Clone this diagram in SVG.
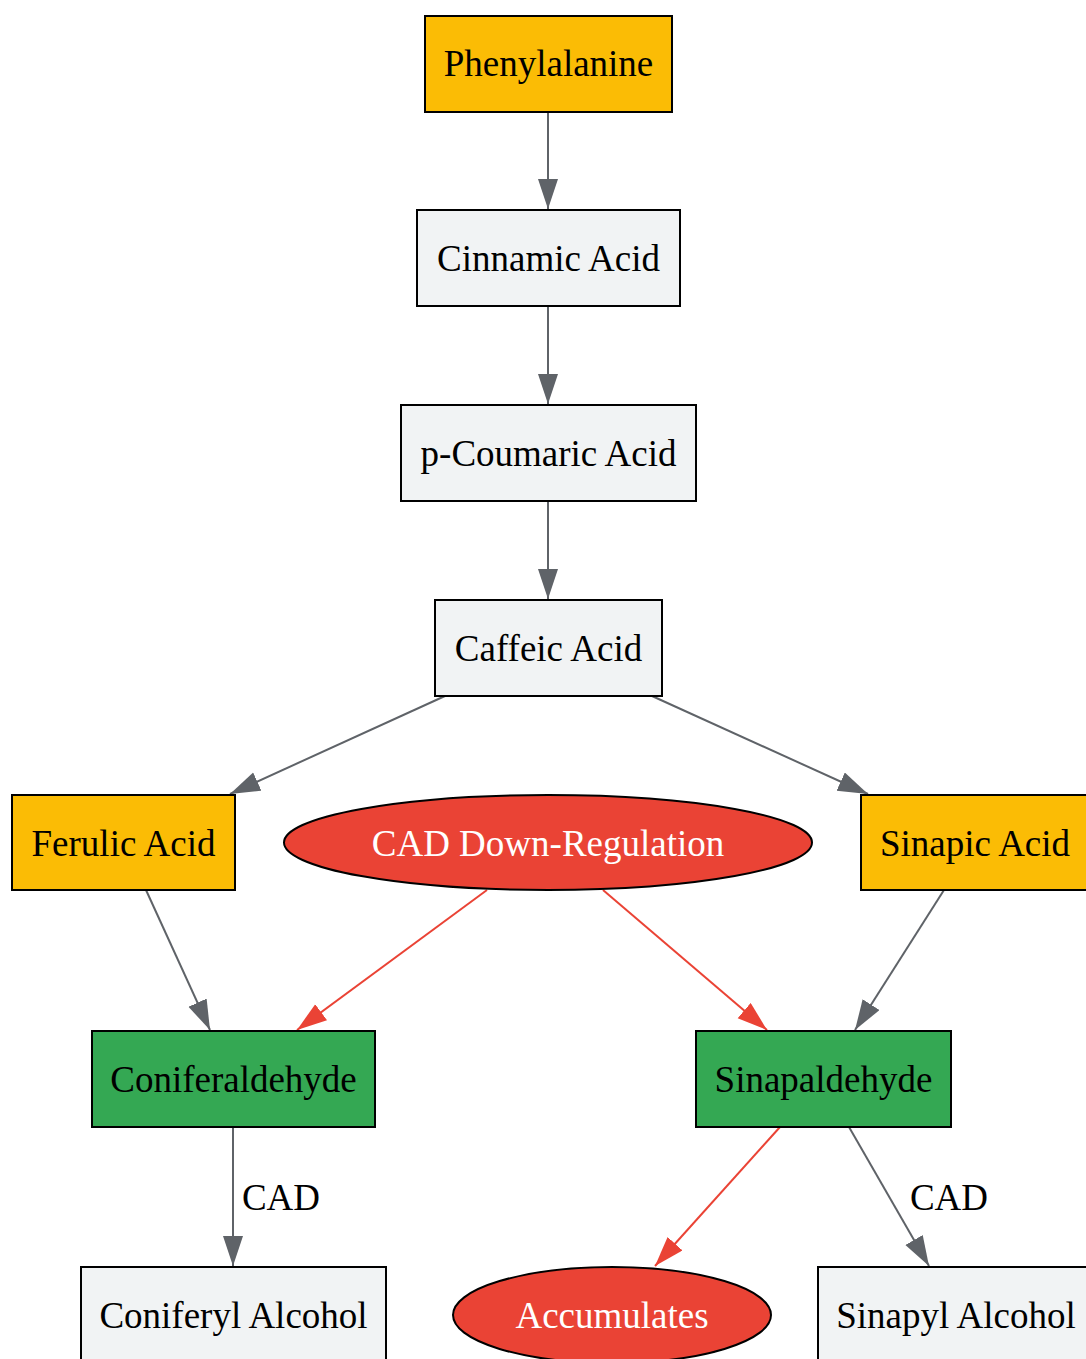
<svg xmlns="http://www.w3.org/2000/svg" width="1086" height="1359" viewBox="0 0 1086 1359">
<style>
.n{stroke:#000;stroke-width:2}
.y{fill:#FBBC05}.g{fill:#F1F3F4}.gr{fill:#34A853}.r{fill:#EA4335}
text{font-family:"Liberation Serif","Times New Roman",serif;font-size:37px;text-anchor:middle;fill:#000}
.w{fill:#fff}
.e{fill:none;stroke:#5F6368;stroke-width:2}
.er{fill:none;stroke:#EA4335;stroke-width:2}
</style>
<defs>
<marker id="ag" markerUnits="userSpaceOnUse" markerWidth="32" markerHeight="22" refX="30" refY="10" orient="auto"><path d="M0,0 L30,10 L0,20 z" fill="#5F6368"/></marker>
<marker id="ar" markerUnits="userSpaceOnUse" markerWidth="32" markerHeight="22" refX="30" refY="10" orient="auto"><path d="M0,0 L30,10 L0,20 z" fill="#EA4335"/></marker>
</defs>
<rect width="1086" height="1359" fill="#fff"/>
<g id="edges">
<line class="e" x1="548" y1="112" x2="548" y2="209" marker-end="url(#ag)"/>
<line class="e" x1="548" y1="306" x2="548" y2="404" marker-end="url(#ag)"/>
<line class="e" x1="548" y1="501" x2="548" y2="599" marker-end="url(#ag)"/>
<line class="e" x1="445" y1="696" x2="230" y2="794" marker-end="url(#ag)"/>
<line class="e" x1="652" y1="696" x2="868" y2="794" marker-end="url(#ag)"/>
<line class="e" x1="146" y1="890" x2="210" y2="1030" marker-end="url(#ag)"/>
<line class="er" x1="487" y1="890" x2="297" y2="1030" marker-end="url(#ar)"/>
<line class="er" x1="603" y1="890" x2="767" y2="1030" marker-end="url(#ar)"/>
<line class="e" x1="944" y1="890" x2="855" y2="1030" marker-end="url(#ag)"/>
<line class="e" x1="233" y1="1127" x2="233" y2="1266" marker-end="url(#ag)"/>
<text x="281" y="1210">CAD</text>
<line class="er" x1="780" y1="1127" x2="655" y2="1266" marker-end="url(#ar)"/>
<line class="e" x1="849" y1="1127" x2="929" y2="1266" marker-end="url(#ag)"/>
<text x="949" y="1210">CAD</text>
</g>
<g id="phenylalanine"><rect class="n y" x="425" y="16" width="247" height="96"/><text x="548.5" y="76">Phenylalanine</text></g>
<g id="cinnamic"><rect class="n g" x="417" y="210" width="263" height="96"/><text x="548.5" y="271">Cinnamic Acid</text></g>
<g id="pcoumaric"><rect class="n g" x="401" y="405" width="295" height="96"/><text x="548.5" y="466">p-Coumaric Acid</text></g>
<g id="caffeic"><rect class="n g" x="435" y="600" width="227" height="96"/><text x="548.5" y="661">Caffeic Acid</text></g>
<g id="ferulic"><rect class="n y" x="12" y="795" width="223" height="95"/><text x="123.5" y="856">Ferulic Acid</text></g>
<g id="caddown"><ellipse class="n r" cx="548" cy="842.5" rx="264" ry="47.5"/><text class="w" x="548" y="856">CAD Down-Regulation</text></g>
<g id="sinapic"><rect class="n y" x="861" y="795" width="230" height="95"/><text x="975" y="856">Sinapic Acid</text></g>
<g id="coniferaldehyde"><rect class="n gr" x="92" y="1031" width="283" height="96"/><text x="233.5" y="1092">Coniferaldehyde</text></g>
<g id="sinapaldehyde"><rect class="n gr" x="696" y="1031" width="255" height="96"/><text x="823.5" y="1092">Sinapaldehyde</text></g>
<g id="coniferyl"><rect class="n g" x="81" y="1267" width="305" height="96"/><text x="233.5" y="1328">Coniferyl Alcohol</text></g>
<g id="accumulates"><ellipse class="n r" cx="612" cy="1315" rx="159" ry="48"/><text class="w" x="612" y="1328">Accumulates</text></g>
<g id="sinapyl"><rect class="n g" x="818" y="1267" width="275" height="96"/><text x="956" y="1328">Sinapyl Alcohol</text></g>
</svg>
